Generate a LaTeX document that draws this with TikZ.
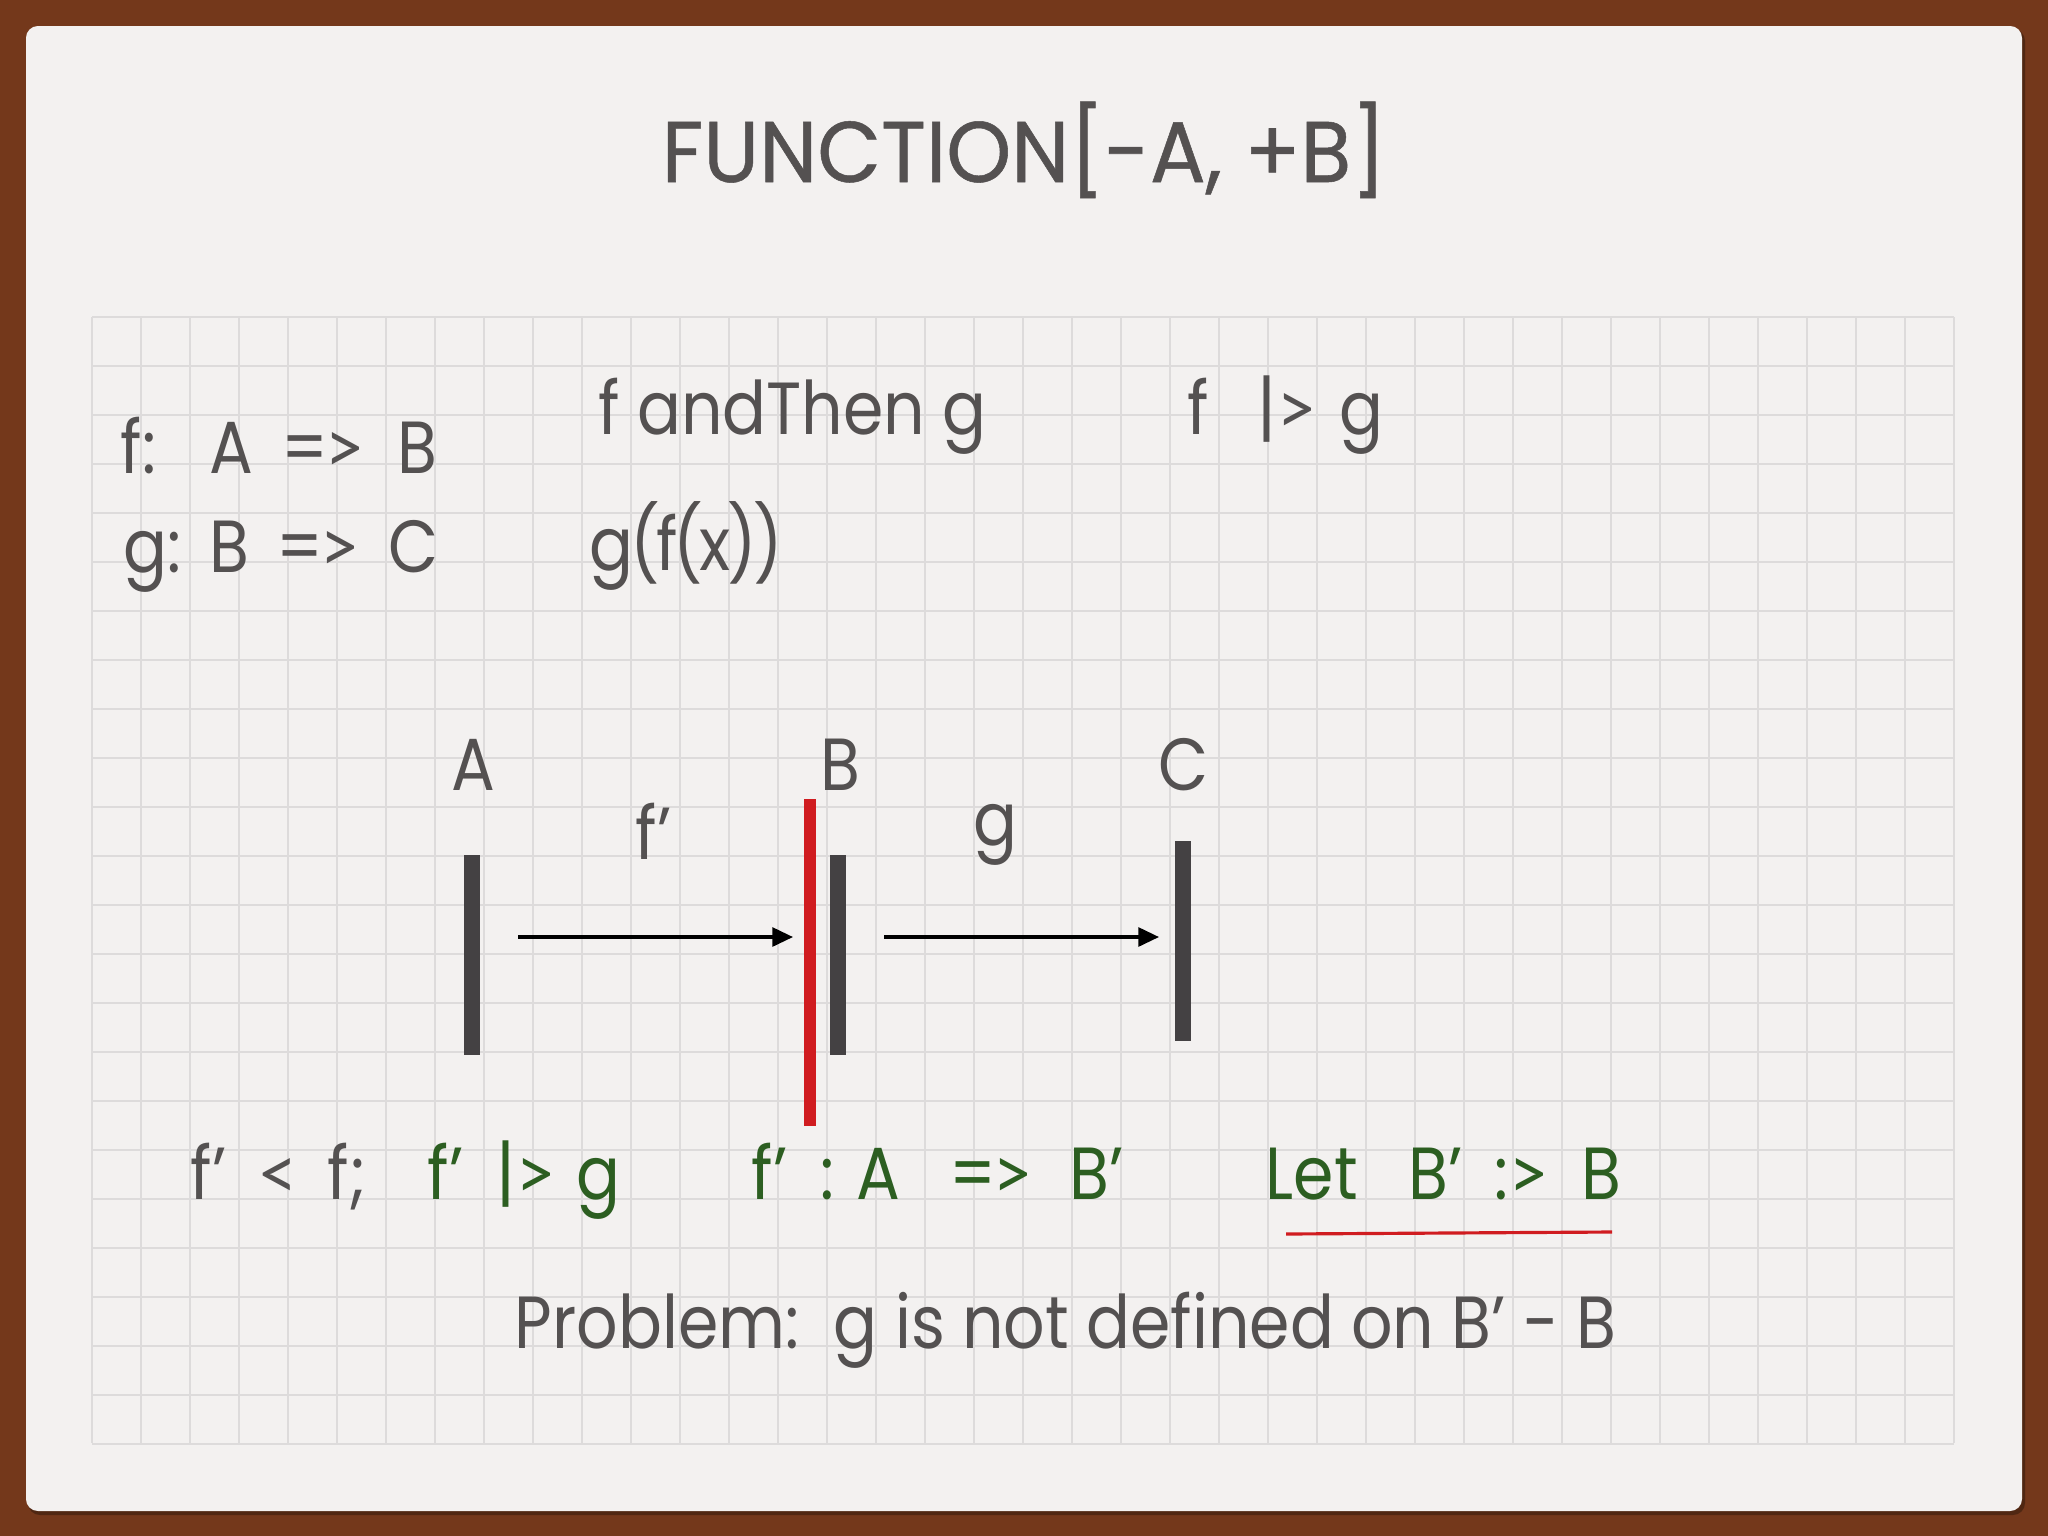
\documentclass[tikz,border=0pt]{standalone}
\usepackage{fontspec}
\setmainfont{Poppins}[FakeStretch=0.88]
\newfontfamily\titlefont{Poppins}[FakeStretch=0.96, FakeBold=0.6]
\newfontfamily\opfont{Lato}[FakeStretch=0.95]
\newcommand{\gtop}{{\opfont >}}
\newcommand{\ltop}{{\opfont <}}
\newcommand{\impl}{=\kern-1.2pt\gtop}
\newlength{\pxu}
\setlength{\pxu}{0.01cm}
\newcommand{\seg}[2]{\makebox[#1\pxu][l]{#2}}
\usetikzlibrary{arrows.meta}

\definecolor{frame}{RGB}{116,56,27}
\definecolor{paper}{RGB}{243,241,240}
\definecolor{gridgrey}{RGB}{221,219,219}
\definecolor{ink}{RGB}{84,81,81}
\definecolor{barink}{RGB}{68,65,67}
\definecolor{leaf}{RGB}{44,94,33}
\definecolor{cutred}{RGB}{208,28,32}

\begin{document}
\begin{tikzpicture}[
  x=0.01cm, y=-0.01cm,
  gridline/.style={gridgrey, line width=0.45pt},
  set bar/.style={barink, line width=4.3pt},
  cut bar/.style={cutred, line width=3.2pt},
  map arrow/.style={-{Triangle[length=5.9pt,width=5.4pt]}, line width=0.9pt, black},
  label/.style={ink, font=\fontsize{21}{25}\selectfont, anchor=base west, inner sep=0pt},
  green label/.style={label, leaf},
  set name/.style={label, anchor=base}
  ]
  \useasboundingbox (0,0) rectangle (2048,1536);
  \fill[frame] (0,0) rectangle (2048,1536);
  % paper sheet
  \fill[black, opacity=0.3, rounded corners=3.4pt] (28,29) rectangle (2025,1515);
  \fill[paper, rounded corners=3.4pt] (26,26) rectangle (2022,1511);

  \foreach \i in {0,...,38}
    \draw[gridline] ({92+49*\i},317) -- ({92+49*\i},1443);
  \foreach \j in {0,...,23}
    \draw[gridline] (92,{317+49*\j}) -- (1954,{317+49*\j});

  \node[ink, anchor=base, inner sep=0pt, font=\titlefont\fontsize{24.5}{28}\selectfont] (title) at (1024,182) {FUNCTION[-A, +B]};

  \node[label] (fsig) at (120,473) {\seg{89}{f:}\seg{72}{A}\seg{116}{\impl}B};
  \node[label] (gsig) at (123,572) {\seg{86}{g:}\seg{67}{B}\seg{112}{\impl}C};
  \node[label] (andthen) at (598,434) {f andThen g};
  \node[label] (pipe) at (1187,434) {\seg{70}{f}\seg{82}{|\gtop}g};
  \node[label] (nested) at (589,570) {g\kern-1pt(\kern-1pt f\kern-1pt(\kern-1pt x\kern-1pt)\kern-1pt)};

  % the three sets
  \node[set name] (A) at (473,790) {A};
  \node[set name] (B) at (840,790) {B};
  \node[set name] (C) at (1184,790) {C};
  \node[label] (fp) at (635,859) {f'};
  \node[set name] (g) at (995,845) {g};

  \draw[set bar] (472,855) coordinate (a top) -- (472,1055) coordinate (a bot);
  \draw[cut bar] (810,799) coordinate (r top) -- (810,1126) coordinate (r bot);
  \draw[set bar] (838,855) coordinate (b top) -- (838,1055) coordinate (b bot);
  \draw[set bar] (1183,841) coordinate (c top) -- (1183,1041) coordinate (c bot);

  \coordinate (f from) at (518,937);
  \coordinate (f to) at (793,937);
  \coordinate (g from) at (884,937);
  \coordinate (g to) at (1159,937);
  \draw[map arrow] (f from) -- (f to);
  \draw[map arrow] (g from) -- (g to);

  \node[label] (fsub) at (190,1199) {\seg{67}{f'}\seg{70}{\ltop}f;};
  \node[green label] (fpipe) at (427,1199) {\seg{69}{f'}\seg{80}{|\gtop}g};
  \node[green label] (fprime) at (751,1199) {\seg{69}{f'}\seg{36}{:}\seg{93}{A}\seg{120}{\impl}B'};
  \node[green label] (letb) at (1265,1199) {\seg{143}{Let}\seg{86}{B'}\seg{87}{:\gtop}B};
  \draw[cutred, line width=0.9pt] (1286,1234) coordinate (u left) -- (1612,1232) coordinate (u right);

  \node[label] (problem) at (514,1348) {Problem:\ \ g is not defined on B' - B};
\end{tikzpicture}
\end{document}
